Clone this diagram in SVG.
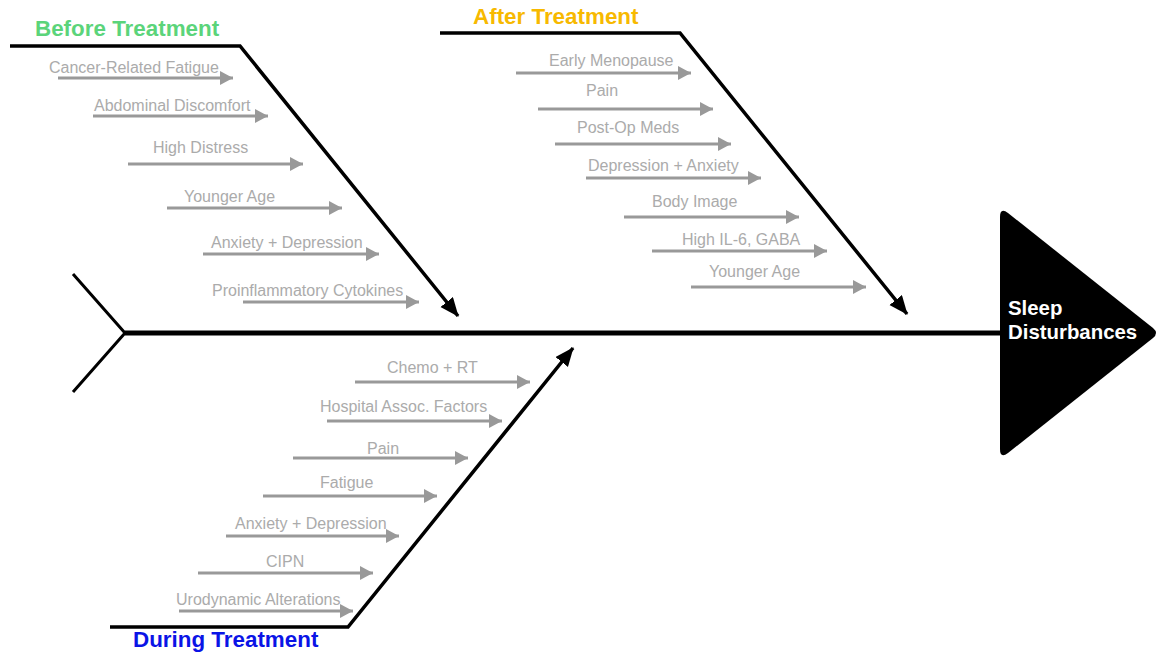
<svg xmlns="http://www.w3.org/2000/svg" width="1157" height="656" viewBox="0 0 1157 656">
<defs>
<marker id="bh" markerUnits="userSpaceOnUse" markerWidth="19" markerHeight="17" refX="18" refY="8" orient="auto"><path d="M0,0 L19,8 L0,16 Z" fill="#000"/></marker>
<marker id="gh" markerUnits="userSpaceOnUse" markerWidth="14" markerHeight="15" refX="13" refY="7" orient="auto"><path d="M0,0 L13,7 L0,14 Z" fill="#999"/></marker>
<style>
.bone{fill:none;stroke:#000;stroke-width:3.5;stroke-linejoin:miter}
.spine{fill:none;stroke:#000;stroke-width:5}
.tail{fill:none;stroke:#000;stroke-width:3}
.cause{stroke:#999;stroke-width:3;fill:none}
.lbl{font-family:"Liberation Sans",Arial,sans-serif;font-size:16px;fill:#ababab}
.cat{font-family:"Liberation Sans",Arial,sans-serif;font-size:22.4px;font-weight:bold}
.head{font-family:"Liberation Sans",Arial,sans-serif;font-size:20.4px;font-weight:bold;fill:#fff}
</style>
</defs>
<rect width="1157" height="656" fill="#fff"/>
<g id="connectors">
<path class="spine" d="M125,333 L1002,333"/>
<path class="tail" d="M73,274 L125,333 L73,392"/>
<path class="bone" d="M10,46 L240,46 L458,316" marker-end="url(#bh)"/>
<path class="bone" d="M440,33 L680,33 L907,314" marker-end="url(#bh)"/>
<path class="bone" d="M110,627 L348,627 L573,348" marker-end="url(#bh)"/>
<line class="cause" x1="58" y1="78" x2="233" y2="78" marker-end="url(#gh)"/>
<line class="cause" x1="93" y1="116" x2="268" y2="116" marker-end="url(#gh)"/>
<line class="cause" x1="128" y1="164" x2="303" y2="164" marker-end="url(#gh)"/>
<line class="cause" x1="167" y1="208" x2="342" y2="208" marker-end="url(#gh)"/>
<line class="cause" x1="203" y1="254" x2="379" y2="254" marker-end="url(#gh)"/>
<line class="cause" x1="243" y1="302" x2="419" y2="302" marker-end="url(#gh)"/>
<line class="cause" x1="516" y1="73" x2="691" y2="73" marker-end="url(#gh)"/>
<line class="cause" x1="538" y1="109" x2="713" y2="109" marker-end="url(#gh)"/>
<line class="cause" x1="555" y1="144" x2="731" y2="144" marker-end="url(#gh)"/>
<line class="cause" x1="586" y1="178" x2="761" y2="178" marker-end="url(#gh)"/>
<line class="cause" x1="624" y1="217" x2="799" y2="217" marker-end="url(#gh)"/>
<line class="cause" x1="652" y1="251" x2="827" y2="251" marker-end="url(#gh)"/>
<line class="cause" x1="691" y1="287" x2="866" y2="287" marker-end="url(#gh)"/>
<line class="cause" x1="355" y1="382" x2="530" y2="382" marker-end="url(#gh)"/>
<line class="cause" x1="327" y1="421" x2="502" y2="421" marker-end="url(#gh)"/>
<line class="cause" x1="293" y1="458" x2="468" y2="458" marker-end="url(#gh)"/>
<line class="cause" x1="263" y1="496" x2="437" y2="496" marker-end="url(#gh)"/>
<line class="cause" x1="226" y1="536" x2="399" y2="536" marker-end="url(#gh)"/>
<line class="cause" x1="198" y1="573" x2="373" y2="573" marker-end="url(#gh)"/>
<line class="cause" x1="179" y1="611" x2="353" y2="611" marker-end="url(#gh)"/>
</g>
<g id="effect">
<path d="M1000,217 Q1000,207 1008,213 L1153,328 Q1159,333 1153,338 L1008,453 Q1000,459 1000,449 Z" fill="#000"/>
<text class="head" x="1008" y="315">Sleep</text>
<text class="head" x="1008" y="339">Disturbances</text>
</g>
<g id="cat-before"><text class="cat" x="35" y="36" fill="#5bd47a">Before Treatment</text></g>
<g id="cat-after"><text class="cat" x="473" y="24" fill="#f7b900">After Treatment</text></g>
<g id="cat-during"><text class="cat" x="133" y="647" fill="#0a14e6">During Treatment</text></g>
<g id="before-1"><text class="lbl" x="49" y="73">Cancer-Related Fatigue</text></g>
<g id="before-2"><text class="lbl" x="94" y="111">Abdominal Discomfort</text></g>
<g id="before-3"><text class="lbl" x="153" y="153">High Distress</text></g>
<g id="before-4"><text class="lbl" x="184" y="202">Younger Age</text></g>
<g id="before-5"><text class="lbl" x="211" y="248">Anxiety + Depression</text></g>
<g id="before-6"><text class="lbl" x="212" y="296">Proinflammatory Cytokines</text></g>
<g id="after-1"><text class="lbl" x="549" y="66">Early Menopause</text></g>
<g id="after-2"><text class="lbl" x="586" y="96">Pain</text></g>
<g id="after-3"><text class="lbl" x="577" y="133">Post-Op Meds</text></g>
<g id="after-4"><text class="lbl" x="588" y="171">Depression + Anxiety</text></g>
<g id="after-5"><text class="lbl" x="652" y="207">Body Image</text></g>
<g id="after-6"><text class="lbl" x="682" y="245">High IL-6, GABA</text></g>
<g id="after-7"><text class="lbl" x="709" y="277">Younger Age</text></g>
<g id="during-1"><text class="lbl" x="387" y="373">Chemo + RT</text></g>
<g id="during-2"><text class="lbl" x="320" y="412">Hospital Assoc. Factors</text></g>
<g id="during-3"><text class="lbl" x="367" y="454">Pain</text></g>
<g id="during-4"><text class="lbl" x="320" y="488">Fatigue</text></g>
<g id="during-5"><text class="lbl" x="235" y="529">Anxiety + Depression</text></g>
<g id="during-6"><text class="lbl" x="266" y="567">CIPN</text></g>
<g id="during-7"><text class="lbl" x="176" y="605">Urodynamic Alterations</text></g>
</svg>
